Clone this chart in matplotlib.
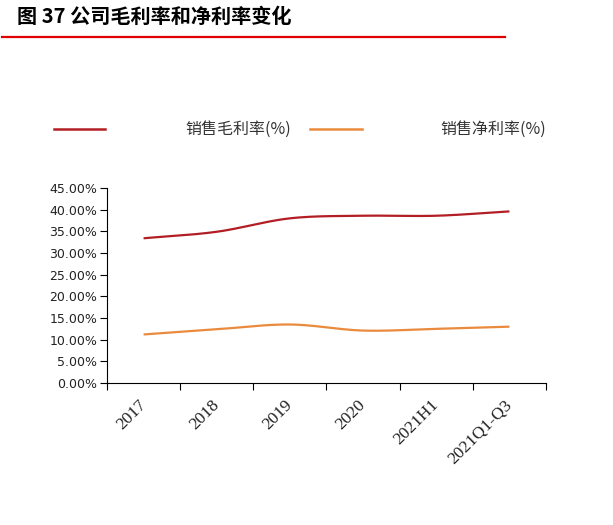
import numpy as np
import matplotlib
matplotlib.use("Agg")
import matplotlib.pyplot as plt
from matplotlib.lines import Line2D
from matplotlib.ticker import FuncFormatter, MultipleLocator

categories = ["2017", "2018", "2019", "2020", "2021H1", "2021Q1-Q3"]
gross_margin = [33.4, 34.9, 38.0, 38.6, 38.6, 39.6]
net_margin = [11.2, 12.4, 13.5, 12.1, 12.5, 13.0]
series_names = ["销售毛利率(%)", "销售净利率(%)"]
title = "图 37 公司毛利率和净利率变化"

RED = "#B21E24"
ORANGE = "#E98A3C"
CJK = ["Noto Sans CJK SC", "DejaVu Sans"]


def smooth(x, y, n=30):
    # Catmull-Rom spline through the data points (Excel-like smoothed line)
    x = np.asarray(x, float)
    y = np.asarray(y, float)
    px = np.concatenate([[2 * x[0] - x[1]], x, [2 * x[-1] - x[-2]]])
    py = np.concatenate([[2 * y[0] - y[1]], y, [2 * y[-1] - y[-2]]])
    xs, ys = [], []
    t = np.linspace(0, 1, n, endpoint=False)
    for i in range(1, len(px) - 2):
        for arr, out in ((px, xs), (py, ys)):
            p0, p1, p2, p3 = arr[i - 1], arr[i], arr[i + 1], arr[i + 2]
            out.extend(0.5 * ((2 * p1) + (-p0 + p2) * t
                              + (2 * p0 - 5 * p1 + 4 * p2 - p3) * t ** 2
                              + (-p0 + 3 * p1 - 3 * p2 + p3) * t ** 3))
    xs.append(x[-1]); ys.append(y[-1])
    return np.array(xs), np.array(ys)


fig = plt.figure(figsize=(6.13, 5.25), dpi=100)
ax = fig.add_axes([107 / 613, 1 - 383 / 525, (546 - 107) / 613, (383 - 188) / 525])

x = np.arange(len(categories))
for vals, col in ((gross_margin, RED), (net_margin, ORANGE)):
    sx, sy = smooth(x, vals)
    ax.plot(sx, sy, color=col, lw=1.6, solid_capstyle="butt")

ax.set_xlim(-0.5, len(categories) - 0.5)
ax.set_ylim(0, 45)
ax.yaxis.set_major_locator(MultipleLocator(5))
ax.yaxis.set_major_formatter(FuncFormatter(lambda v, p: f"{v:.2f}%"))
ax.set_xticks(np.arange(-0.5, len(categories), 1.0))
ax.set_xticklabels([])
ax.set_xticks(x, minor=True)
ax.set_xticklabels(categories, minor=True, rotation=45, ha="right", va="center",
                   rotation_mode="anchor", fontfamily="Liberation Serif",
                   fontsize=12.5, color="#222222")
ax.tick_params(axis="x", which="minor", length=0, pad=14)
ax.tick_params(axis="x", which="major", length=5, direction="out", width=0.8)
ax.tick_params(axis="y", length=5, direction="out", width=0.8, labelsize=9,
               labelcolor="#222222", pad=2)
for s in ("top", "right"):
    ax.spines[s].set_visible(False)
for s in ("left", "bottom"):
    ax.spines[s].set_linewidth(0.8)

# Legend
fig.add_artist(Line2D([54 / 613, 105 / 613], [1 - 129 / 525] * 2, color=RED, lw=1.8))
fig.add_artist(Line2D([310 / 613, 362 / 613], [1 - 129 / 525] * 2, color=ORANGE, lw=1.8))
fig.text(185 / 613, 1 - 129 / 525, series_names[0], family=CJK, fontsize=11.5,
         color="#333333", va="center", ha="left")
fig.text(440 / 613, 1 - 129 / 525, series_names[1], family=CJK, fontsize=11.5,
         color="#333333", va="center", ha="left")

# Title and rule
fig.text(17 / 613, 1 - 16 / 525, title, family=CJK, fontsize=14.5, fontweight="bold",
         color="black", va="center", ha="left")
fig.add_artist(Line2D([2 / 613, 505 / 613], [1 - 37 / 525] * 2, color="#E00000", lw=1.6))

fig.savefig("out.png", dpi=100)
